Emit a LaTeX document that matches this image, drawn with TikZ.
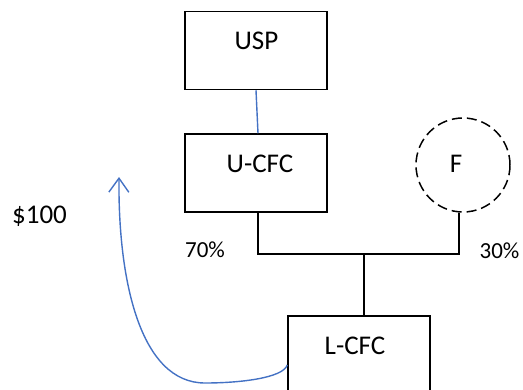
\documentclass[tikz,border=0pt]{standalone}
\usepackage{fontspec}
\setmainfont{Carlito}
\usetikzlibrary{arrows.meta}
\begin{document}
\begin{tikzpicture}[x=1pt,y=-1pt,
  entity/.style={draw=black,line width=1.5pt,minimum width=142pt,minimum height=78pt,inner sep=0pt},
  lbl/.style={font=\fontsize{27}{31}\selectfont,inner sep=0pt,anchor=base},
  pct/.style={font=\fontsize{23}{27}\selectfont,inner sep=0pt,anchor=base},
  own/.style={draw=black,line width=1.5pt}]
\useasboundingbox (0,0) rectangle (523,389);
\definecolor{linkblue}{RGB}{68,114,196}
% boxes
\node[entity] (usp) at (256,50.5) {};
\node[entity] (ucfc) at (256,173) {};
\node[draw=black,line width=1.5pt,dash pattern=on 10pt off 5pt,circle,minimum size=94pt,inner sep=0pt] (f) at (463,165) {};
\node[entity,minimum height=90pt] (lcfc) at (359,361) {};
% labels
\node[lbl] at (256.5,49) {USP};
\node[lbl] at (260,172) {U-CFC};
\node[lbl] at (456,172) {F};
\node[lbl] at (355,354) {L-CFC};
\node[lbl] (amt) at (39.5,223) {\$100};
\node[pct] (p70) at (205,257) {70\%};
\node[pct] (p30) at (499.5,258) {30\%};
% ownership connectors
\coordinate (jl) at (258,254);
\coordinate (jr) at (459,254);
\coordinate (jm) at (364,254);
\draw[own] (ucfc.south -| jl) -- (jl) -- (jr) -- (jr |- f.south);
\draw[own] (jm) -- (jm |- lcfc.north);
\draw[draw=linkblue,line width=1.4pt] (usp.south) -- ([xshift=2pt]ucfc.north);
% payment arrow
\coordinate (tip) at (119,177);
\draw[draw=linkblue,line width=1.4pt,-{Straight Barb[length=14pt,width=20pt]}]
  (lcfc.west |- 0,365) .. controls (283,378) and (240,383) .. (205,383)
  .. controls (140,383) and (118,280) .. (tip);
\end{tikzpicture}
\end{document}
